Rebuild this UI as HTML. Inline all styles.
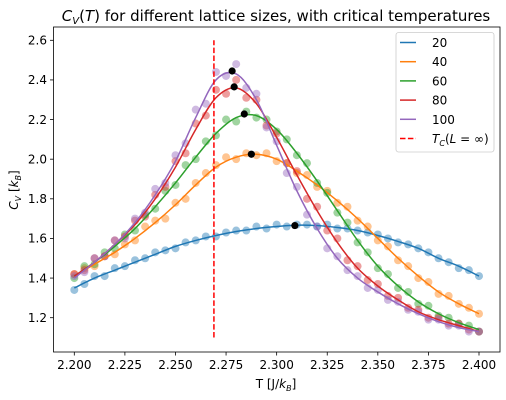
<!DOCTYPE html>
<html><head><meta charset="utf-8"><style>
body{margin:0;background:#fff;}
svg{display:block;font-family:"DejaVu Sans","Liberation Sans",sans-serif;}
</style></head><body>
<svg id="chart" width="506" height="400" viewBox="0 0 506 400">
<rect x="0" y="0" width="506" height="400" fill="#fff"/>
<text x="276" y="21" text-anchor="middle" font-size="15"><tspan font-style="italic">C</tspan><tspan font-style="italic" font-size="10" dy="3">V</tspan><tspan dy="-3">(</tspan><tspan font-style="italic">T</tspan>) for different lattice sizes, with critical temperatures</text>
<g id="plot"></g>
<rect x="53.5" y="27" width="446.5" height="325" fill="none" stroke="#000" stroke-width="0.8"/>
<g id="xt"></g>
<g id="yt"></g>
<text x="276" y="388" text-anchor="middle" font-size="12">T [J/<tspan font-style="italic">k</tspan><tspan font-style="italic" font-size="8" dy="3">B</tspan><tspan dy="-3">]</tspan></text>
<text transform="translate(18,190) rotate(-90)" text-anchor="middle" font-size="12"><tspan font-style="italic">C</tspan><tspan font-style="italic" font-size="8" dy="3">V</tspan><tspan dy="-3"> [</tspan><tspan font-style="italic">k</tspan><tspan font-style="italic" font-size="8" dy="3">B</tspan><tspan dy="-3">]</tspan></text>
<g id="legend"></g>
</svg>
<script>
const seriesLabels = ["20","40","60","80","100"];
const fitT = [2.20,2.21,2.22,2.23,2.24,2.25,2.26,2.27,2.28,2.29,2.30,2.31,2.32,2.33,2.34,2.35,2.36,2.37,2.38,2.39,2.40];
const fit20 = [1.35,1.40,1.44,1.48,1.52,1.56,1.59,1.615,1.635,1.65,1.66,1.667,1.665,1.655,1.64,1.615,1.585,1.55,1.50,1.46,1.41];
const fit40 = [1.41,1.47,1.53,1.60,1.68,1.77,1.87,1.96,2.01,2.025,2.00,1.94,1.87,1.79,1.70,1.60,1.50,1.41,1.33,1.27,1.22];
const fit60 = [1.41,1.48,1.56,1.65,1.76,1.88,2.01,2.13,2.21,2.22,2.15,2.03,1.89,1.74,1.59,1.46,1.36,1.28,1.22,1.175,1.14];
const fit80 = [1.41,1.48,1.57,1.67,1.80,1.96,2.15,2.31,2.36,2.28,2.11,1.92,1.74,1.58,1.45,1.36,1.29,1.23,1.19,1.16,1.13];
const fit100 = [1.40,1.48,1.57,1.68,1.82,1.99,2.21,2.40,2.43,2.30,2.07,1.84,1.65,1.50,1.40,1.33,1.27,1.22,1.18,1.15,1.13];
const scatT = [2.200,2.205,2.210,2.215,2.220,2.225,2.230,2.235,2.240,2.245,2.250,2.255,2.260,2.265,2.270,2.275,2.280,2.285,2.290,2.295,2.300,2.305,2.310,2.315,2.320,2.325,2.330,2.335,2.340,2.345,2.350,2.355,2.360,2.365,2.370,2.375,2.380,2.385,2.390,2.395,2.400];
const sc20 = [1.34,1.37,1.41,1.41,1.45,1.46,1.49,1.50,1.53,1.54,1.55,1.58,1.59,1.61,1.61,1.63,1.64,1.64,1.66,1.65,1.67,1.66,1.67,1.67,1.66,1.67,1.65,1.65,1.64,1.63,1.62,1.60,1.58,1.57,1.55,1.53,1.50,1.48,1.45,1.44,1.41];
const sc40 = [1.42,1.45,1.46,1.51,1.52,1.57,1.59,1.66,1.69,1.70,1.78,1.80,1.88,1.93,1.97,2.01,2.00,2.03,2.02,2.03,1.99,1.98,1.93,1.92,1.86,1.84,1.78,1.76,1.69,1.66,1.59,1.56,1.49,1.46,1.40,1.38,1.32,1.31,1.27,1.25,1.22];
const sc60 = [1.40,1.46,1.47,1.53,1.55,1.62,1.64,1.72,1.75,1.84,1.87,1.97,2.00,2.09,2.12,2.20,2.19,2.24,2.21,2.20,2.14,2.10,2.02,1.98,1.88,1.83,1.73,1.68,1.58,1.53,1.45,1.42,1.35,1.33,1.27,1.26,1.21,1.20,1.17,1.16,1.13];
const sc80 = [1.42,1.44,1.50,1.51,1.59,1.61,1.69,1.71,1.82,1.86,1.99,2.03,2.18,2.22,2.35,2.33,2.40,2.31,2.30,2.17,2.13,1.98,1.94,1.80,1.76,1.64,1.60,1.49,1.46,1.39,1.37,1.31,1.30,1.25,1.24,1.20,1.20,1.17,1.17,1.14,1.13];
const sc100 = [1.41,1.43,1.50,1.51,1.59,1.60,1.70,1.73,1.85,1.88,2.02,2.08,2.25,2.28,2.44,2.42,2.48,2.36,2.33,2.16,2.09,1.93,1.86,1.72,1.66,1.55,1.51,1.44,1.41,1.35,1.34,1.29,1.28,1.24,1.23,1.19,1.19,1.16,1.16,1.13,1.13];
const peakT = [2.309,2.2875,2.284,2.279,2.278];
const peakC = [1.665,2.025,2.228,2.365,2.445];
const tcInf = 2.269;
const tcRange = [1.1,2.6];
const xTicks = [2.200,2.225,2.250,2.275,2.300,2.325,2.350,2.375,2.400];
const yTicks = [1.2,1.4,1.6,1.8,2.0,2.2,2.4,2.6];

const colors = ["#1f77b4","#ff7f0e","#2ca02c","#d62728","#9467bd"];
const fits = [fit20,fit40,fit60,fit80,fit100];
const scats = [sc20,sc40,sc60,sc80,sc100];
const NS = "http://www.w3.org/2000/svg";
const X = t => 74.3 + (t - 2.2) / 0.2 * 404.7;
const Y = c => 317.7 - (c - 1.2) / 1.4 * 277.4;
function mk(tag, attrs, parent){const e=document.createElementNS(NS,tag);for(const k in attrs)e.setAttribute(k,attrs[k]);parent.appendChild(e);return e;}
const plot = document.getElementById('plot');
function smoothPath(xs, ys){
  const p = xs.map((x,i)=>[X(x),Y(ys[i])]);
  let d = `M${p[0][0]},${p[0][1]}`;
  for(let i=0;i<p.length-1;i++){
    const p0=p[Math.max(0,i-1)],p1=p[i],p2=p[i+1],p3=p[Math.min(p.length-1,i+2)];
    const c1=[p1[0]+(p2[0]-p0[0])/6,p1[1]+(p2[1]-p0[1])/6];
    const c2=[p2[0]-(p3[0]-p1[0])/6,p2[1]-(p3[1]-p1[1])/6];
    d+=` C${c1[0]},${c1[1]} ${c2[0]},${c2[1]} ${p2[0]},${p2[1]}`;
  }
  return d;
}
scats.forEach((s,si)=>{
  const g = mk('g',{},plot);
  
  
  s.forEach((v,i)=>{
    const c = mk('circle',{cx:X(scatT[i]),cy:Y(v),r:4,fill:colors[si],'fill-opacity':0.45},g);
    
    
  });
});
fits.forEach((f,si)=>{
  const p = mk('path',{d:smoothPath(fitT,f),fill:'none',stroke:colors[si],'stroke-width':1.5},plot);
  
  
});
const tcl = mk('line',{x1:X(tcInf),x2:X(tcInf),y1:Y(tcRange[0]),y2:Y(tcRange[1]),stroke:'#ff0000','stroke-width':1.5,'stroke-dasharray':'5.5,2.4'},plot);


peakT.forEach((t,i)=>{
  const c = mk('circle',{cx:X(t),cy:Y(peakC[i]),r:3.6,fill:'#000'},plot);
  
  
});
const xt = document.getElementById('xt');
xTicks.forEach(t=>{
  const l = mk('line',{x1:X(t),x2:X(t),y1:352,y2:355.5,stroke:'#000','stroke-width':0.8},xt);
  
  
  const tx = mk('text',{x:X(t),y:369,'text-anchor':'middle','font-size':12},xt);
  
  
  tx.textContent = t.toFixed(3);
});
const yt = document.getElementById('yt');
yTicks.forEach(c=>{
  const l = mk('line',{x1:50,x2:53.5,y1:Y(c),y2:Y(c),stroke:'#000','stroke-width':0.8},yt);
  
  
  const tx = mk('text',{x:47,y:Y(c)+4.3,'text-anchor':'end','font-size':12},yt);
  
  
  tx.textContent = c.toFixed(1);
});
const lg = document.getElementById('legend');
mk('rect',{x:396,y:32.5,width:98,height:119.5,rx:2.5,fill:'#fff','fill-opacity':0.8,stroke:'#ccc','stroke-width':0.8},lg);
const legLabels = seriesLabels.concat(['tc']);
legLabels.forEach((lab,i)=>{
  const y = 42.5 + i*19.2;
  const isTc = lab==='tc';
  const e = mk('g',{},lg);
  
  
  mk('line',{x1:400,x2:416,y1:y,y2:y,stroke:isTc?'#ff0000':colors[i],'stroke-width':1.5,'stroke-dasharray':isTc?'5.5,2.4':'none'},e);
  const tx = mk('text',{x:432,y:y+4.5,'font-size':12},e);
  if(isTc){
    tx.innerHTML = '<tspan font-style="italic">T</tspan><tspan font-style="italic" font-size="8" dy="3">C</tspan><tspan dy="-3">(</tspan><tspan font-style="italic">L</tspan> = ∞)';
  } else tx.textContent = lab;
});
</script>
</body></html>
